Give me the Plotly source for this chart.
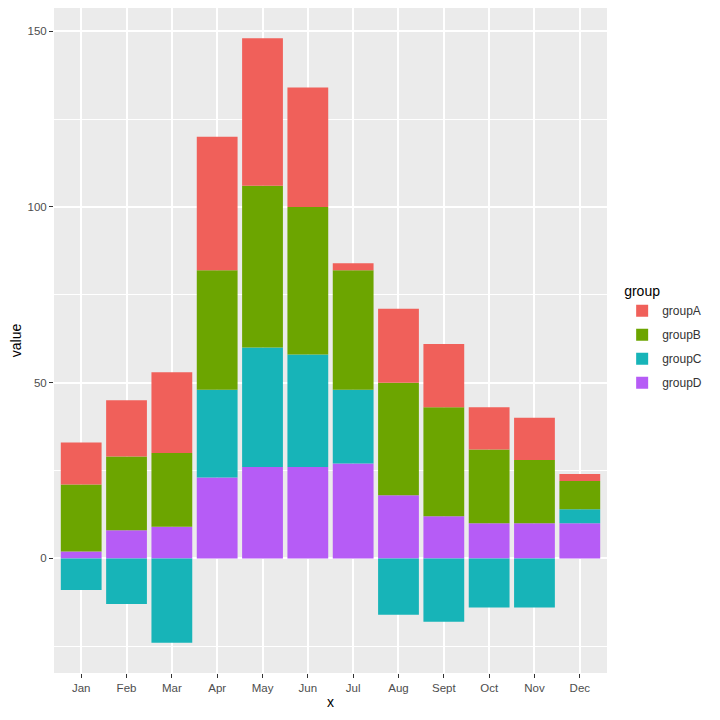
import plotly.graph_objects as go

# monthly values per group
months = ["Jan", "Feb", "Mar", "Apr", "May", "Jun", "Jul", "Aug", "Sept", "Oct", "Nov", "Dec"]
groupA = [12, 16, 23, 38, 42, 34, 2, 21, 18, 12, 12, 2]
groupB = [19, 21, 21, 34, 46, 42, 34, 32, 31, 21, 18, 8]
groupC = [-9, -13, -24, 25, 34, 32, 21, -16, -18, -14, -14, 4]
groupD = [2, 8, 9, 23, 26, 26, 27, 18, 12, 10, 10, 10]

y_ticks = [0, 50, 100, 150]

colors = {
    'groupA': '#F0605A',
    'groupB': '#6CA500',
    'groupC': '#17B4B8',
    'groupD': '#B65CF6',
}

fig = go.Figure()

# ggplot stacks the last factor level at the bottom, so add D first
series = [('groupD', groupD, 4), ('groupC', groupC, 3), ('groupB', groupB, 2), ('groupA', groupA, 1)]
for name, vals, rank in series:
    fig.add_trace(go.Bar(
        x=months,
        y=vals,
        name=name,
        legendgroup=name,
        legendrank=rank,
        marker=dict(color=colors[name], line=dict(width=0)),
    ))

# the page body adds an 8px offset, margins are set to compensate
fig.update_layout(
    width=720,
    height=720,
    barmode='relative',
    bargap=0.1,
    paper_bgcolor='white',
    plot_bgcolor='#EBEBEB',
    margin=dict(l=46, r=121, t=0, b=55),
    font=dict(family='Liberation Sans, Arial, sans-serif', color='#4D4D4D', size=11),
    legend=dict(
        title=dict(text='group', font=dict(size=14, color='black')),
        traceorder='grouped',
        tracegroupgap=5,
        xref='container',
        yref='container',
        x=0.853,
        y=0.625,
        xanchor='left',
        yanchor='top',
        font=dict(size=12, color='#333333'),
        bgcolor='white',
    ),
)

fig.update_xaxes(
    title=dict(text='x', font=dict(size=14, color='black'), standoff=4),
    range=[-0.6, 11.6],
    showgrid=True,
    gridcolor='white',
    gridwidth=1.6,
    ticks='outside',
    ticklen=4,
    tickcolor='#333333',
    tickfont=dict(size=11.5, color='#4D4D4D'),
    showline=False,
    zeroline=False,
)

fig.update_yaxes(
    title=dict(text='value', font=dict(size=14, color='black'), standoff=6),
    range=[-32.6, 156.6],
    tickvals=y_ticks,
    ticktext=[str(v) for v in y_ticks],
    showgrid=True,
    gridcolor='white',
    gridwidth=1.6,
    minor=dict(tickvals=[-25, 25, 75, 125], showgrid=True, gridcolor='white', gridwidth=0.8, ticks=''),
    ticks='outside',
    ticklen=4,
    tickcolor='#333333',
    tickfont=dict(size=11.5, color='#4D4D4D'),
    showline=False,
    zeroline=False,
)

fig.write_html("out.html")
